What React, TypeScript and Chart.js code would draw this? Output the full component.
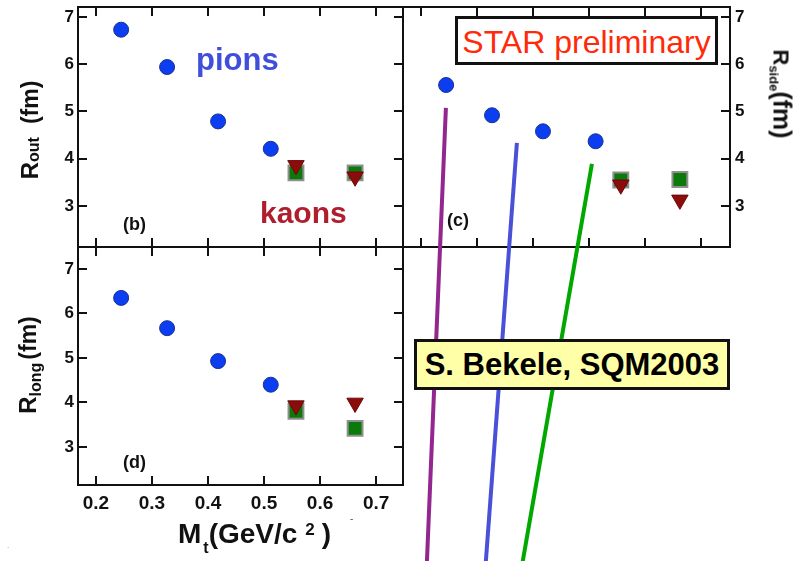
import React, { useEffect, useRef } from 'react';
import { Chart, registerables } from 'chart.js';

Chart.register(...registerables);

// ---------- data ----------
const mtPions = [0.245, 0.327, 0.418, 0.512];
const mtKaons = [0.557, 0.6625];

const rOutPions = [6.73, 5.94, 4.79, 4.21];
const rOutKaonSquares = [3.7, 3.7];
const rOutKaonTriangles = [3.86, 3.62];

const rSidePions = [5.56, 4.92, 4.58, 4.37];
const rSideKaonSquares = [3.55, 3.56];
const rSideKaonTriangles = [3.45, 3.13];

const rLongPions = [6.35, 5.67, 4.93, 4.4];
const rLongKaonSquares = [3.8, 3.42];
const rLongKaonTriangles = [3.93, 3.99];

// guide lines drawn in the R_side panel's coordinates
const guideTopMt = [0.2446, 0.3714, 0.5054];
const guideTopR = [5.076, 4.336, 3.892];
const guideBottomMt = [0.2104, 0.3154, 0.3805];
const guideBottomR = [-4.607, -4.607, -4.607];

// axis ranges / ticks
const mtMin = 0.168;
const mtMaxLeft = 0.748;
const mtMaxRight = 0.752;
const mtStep = 0.1;
const rTopMin = 2.133;
const rTopMax = 7.21;
const rBottomMin = 2.146;
const rBottomMax = 7.494;
const rStep = 1;

// ---------- styles ----------
const FONT = "'Liberation Sans', Arial, Helvetica, sans-serif";
const guideColors = ['#93268f', '#4a50d8', '#00a800'];
const W = 804;
const H = 561;

const pts = (xs: number[], ys: number[]) => xs.map((x, i) => ({ x, y: ys[i] }));

const frameTicks = {
  id: 'frameTicks',
  beforeDatasetsDraw(chart: any, _args: any, opts: any) {
    const { ctx, chartArea: a } = chart;
    const xs = chart.scales.x;
    const ys = chart.scales.y;
    const L = 9;
    ctx.save();
    ctx.strokeStyle = '#111';
    ctx.lineWidth = 2;
    ctx.strokeRect(a.left, a.top, a.right - a.left, a.bottom - a.top);
    ctx.beginPath();
    xs.ticks.forEach((t: any) => {
      const p = Math.round(xs.getPixelForValue(t.value));
      if (opts.top) { ctx.moveTo(p, a.top); ctx.lineTo(p, a.top + L); }
      if (opts.bottom) { ctx.moveTo(p, a.bottom); ctx.lineTo(p, a.bottom - L); }
    });
    ys.ticks.forEach((t: any) => {
      const p = Math.round(ys.getPixelForValue(t.value));
      if (opts.left) { ctx.moveTo(a.left, p); ctx.lineTo(a.left + L, p); }
      if (opts.right) { ctx.moveTo(a.right, p); ctx.lineTo(a.right - L, p); }
    });
    ctx.stroke();
    ctx.restore();
  },
};

function markerSets(pions: number[], squares: number[], triangles: number[]) {
  return [
    {
      label: 'pions',
      data: pts(mtPions, pions),
      pointStyle: 'circle',
      pointRadius: 7.5,
      pointBackgroundColor: '#0b3ef0',
      pointBorderColor: '#1d2f95',
      pointBorderWidth: 1,
    },
    {
      label: 'kaons (triangles)',
      data: pts(mtKaons, triangles),
      pointStyle: 'triangle',
      pointRotation: 180,
      pointRadius: 9.5,
      pointBackgroundColor: '#8c0c0c',
      pointBorderColor: '#6e0808',
      pointBorderWidth: 1,
    },
    {
      label: 'kaons (squares)',
      data: pts(mtKaons, squares),
      pointStyle: 'rect',
      pointRadius: 10.5,
      pointBackgroundColor: '#0b7a0b',
      pointBorderColor: '#8f8f8f',
      pointBorderWidth: 2,
    },
  ];
}

function xScale(show: boolean, max: number) {
  return {
    type: 'linear',
    min: mtMin,
    max,
    display: show,
    ticks: {
      stepSize: mtStep,
      includeBounds: false,
      autoSkip: false,
      maxRotation: 0,
      padding: 7,
      color: '#111',
      font: { family: FONT, size: 19, weight: 'bold' },
    },
    grid: { display: false, drawTicks: false },
    border: { display: false },
    afterFit: (s: any) => {
      s.height = show ? 40 : 0;
      s.paddingLeft = 0;
      s.paddingRight = 0;
    },
  };
}

function yScale(position: 'left' | 'right', min: number, max: number) {
  return {
    type: 'linear',
    position,
    min,
    max,
    ticks: {
      stepSize: rStep,
      includeBounds: false,
      autoSkip: false,
      padding: position === 'left' ? 4 : 5,
      color: '#111',
      font: { family: FONT, size: 17, weight: 'bold' },
    },
    grid: { display: false, drawTicks: false },
    border: { display: false },
    afterFit: (s: any) => { s.width = 40; s.paddingTop = 0; s.paddingBottom = 0; },
  };
}

function baseOptions(padding: any, scales: any, sides: any) {
  return {
    responsive: false,
    animation: false,
    devicePixelRatio: 1,
    events: [],
    layout: { padding, autoPadding: false },
    scales,
    plugins: { legend: { display: false }, tooltip: { enabled: false }, frameTicks: sides },
  };
}

function configOut() {
  return {
    type: 'scatter',
    data: { datasets: markerSets(rOutPions, rOutKaonSquares, rOutKaonTriangles) },
    options: baseOptions(
      { left: 38, top: 7, right: W - 403, bottom: H - 247 },
      { x: xScale(false, mtMaxLeft), y: yScale('left', rTopMin, rTopMax) },
      { top: true, bottom: true, left: true, right: true },
    ),
    plugins: [frameTicks],
  };
}

function configSide() {
  const guides = guideTopMt.map((_, i) => ({
    label: 'guide ' + i,
    data: pts([guideTopMt[i], guideBottomMt[i]], [guideTopR[i], guideBottomR[i]]),
    showLine: true,
    borderColor: guideColors[i],
    borderWidth: 4,
    pointRadius: 0,
    clip: false,
  }));
  return {
    type: 'scatter',
    data: { datasets: [...markerSets(rSidePions, rSideKaonSquares, rSideKaonTriangles), ...guides] },
    options: baseOptions(
      { left: 403, top: 7, right: W - 730 - 40, bottom: H - 247 },
      { x: xScale(false, mtMaxRight), y: yScale('right', rTopMin, rTopMax) },
      { top: true, bottom: true, left: false, right: true },
    ),
    plugins: [frameTicks],
  };
}

function configLong() {
  return {
    type: 'scatter',
    data: { datasets: markerSets(rLongPions, rLongKaonSquares, rLongKaonTriangles) },
    options: baseOptions(
      { left: 38, top: 247, right: W - 403, bottom: H - 485 - 40 },
      { x: xScale(true, mtMaxLeft), y: yScale('left', rBottomMin, rBottomMax) },
      { top: true, bottom: true, left: true, right: true },
    ),
    plugins: [frameTicks],
  };
}

function Panel({ make }: { make: () => any }) {
  const ref = useRef<HTMLCanvasElement | null>(null);
  useEffect(() => {
    if (!ref.current) return;
    const chart = new Chart(ref.current, make());
    return () => chart.destroy();
  }, []);
  return (
    <canvas
      ref={ref}
      width={W}
      height={H}
      style={{ position: 'absolute', left: 0, top: 0, width: W, height: H }}
    />
  );
}

const abs = (o: any) => ({ position: 'absolute' as const, whiteSpace: 'nowrap' as const, lineHeight: 1, ...o });

function RotTitle({ cx, cy, deg, children }: any) {
  return (
    <div
      style={{
        position: 'absolute',
        left: cx,
        top: cy,
        transform: `translate(-50%, -50%) rotate(${deg}deg)`,
        whiteSpace: 'nowrap',
        fontSize: 24,
        lineHeight: '24px',
        fontWeight: 'bold',
        color: '#111',
      }}
    >
      {children}
    </div>
  );
}

export default function App() {
  return (
    <div
      style={{
        position: 'fixed',
        left: 0,
        top: 0,
        width: W,
        height: H,
        background: '#fff',
        overflow: 'hidden',
        fontFamily: FONT,
      }}
    >
      <Panel make={configOut} />
      <Panel make={configLong} />
      <Panel make={configSide} />

      <div style={abs({ left: 196, top: 44, fontSize: 31, fontWeight: 'bold', color: '#3f4fdc' })}>pions</div>
      <div style={abs({ left: 260, top: 198, fontSize: 30, fontWeight: 'bold', color: '#b01e2d' })}>kaons</div>
      <div style={abs({ left: 123, top: 215, fontSize: 18, fontWeight: 'bold', color: '#111' })}>(b)</div>
      <div style={abs({ left: 447, top: 211, fontSize: 18, fontWeight: 'bold', color: '#111' })}>(c)</div>
      <div style={abs({ left: 123, top: 453, fontSize: 18, fontWeight: 'bold', color: '#111' })}>(d)</div>

      <div
        style={{
          position: 'absolute', left: 455, top: 16, width: 263, height: 49, boxSizing: 'border-box',
          border: '3px solid #111', background: '#fff', display: 'flex', alignItems: 'center',
          justifyContent: 'center', paddingTop: 3, fontSize: 32, lineHeight: 1, color: '#ff2a0a', whiteSpace: 'nowrap',
        }}
      >
        STAR preliminary
      </div>

      <div
        style={{
          position: 'absolute', left: 414, top: 339, width: 316, height: 51, boxSizing: 'border-box',
          border: '3px solid #111', background: '#ffffa8', display: 'flex', alignItems: 'center',
          justifyContent: 'center', fontSize: 31, lineHeight: 1, fontWeight: 'bold', color: '#000', whiteSpace: 'nowrap',
        }}
      >
        S. Bekele, SQM2003
      </div>

      <RotTitle cx={31.7} cy={130} deg={-90}>
        <span>R</span>
        <span style={{ fontSize: 16, verticalAlign: -1 }}>out</span>
        <span style={{ fontSize: 23, marginLeft: 13 }}>(fm)</span>
      </RotTitle>

      <RotTitle cx={31.7} cy={365} deg={-90}>
        <span>R</span>
        <span style={{ fontSize: 16, verticalAlign: -5 }}>long</span>
        <span style={{ fontSize: 23, marginLeft: 3 }}>(fm)</span>
      </RotTitle>

      <RotTitle cx={778} cy={94} deg={90}>
        <span style={{ fontSize: 22 }}>R</span>
        <span style={{ fontSize: 13, verticalAlign: -4 }}>side</span>
        <span style={{ fontSize: 25 }}>(fm)</span>
      </RotTitle>

      <div style={abs({ left: 178, top: 516, fontSize: 28, lineHeight: '28px', fontWeight: 'bold', color: '#111' })}>
        M<span style={{ fontSize: 16, verticalAlign: -10, marginLeft: 2 }}>t</span>(GeV/c
        <span style={{ fontSize: 17, verticalAlign: 8, marginLeft: 8, marginRight: 7 }}>2</span>)
      </div>

      <div style={abs({ left: 350, top: 514, fontSize: 10, color: '#555' })}>-</div>
      <div style={abs({ left: 7, top: 542, fontSize: 8, color: '#888' })}>.</div>
    </div>
  );
}
